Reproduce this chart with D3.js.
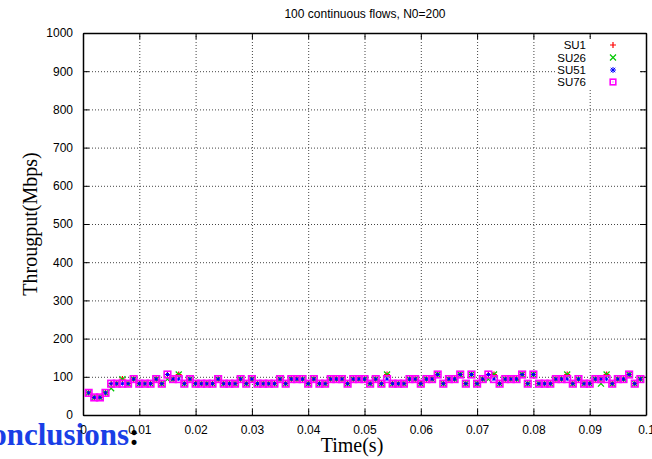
<!DOCTYPE html>
<html><head><meta charset="utf-8">
<script src="https://cdn.jsdelivr.net/npm/d3@7"></script>
<style>
body{margin:0;background:#fff;}
svg{display:block;font-family:"Liberation Sans",Arial,sans-serif;}
</style></head>
<body><svg id="c" width="652" height="459"></svg>
<script>
const title = "100 continuous flows, N0=200";
const xLabel = "Time(s)";
const yLabel = "Througput(Mbps)";
const xTicks = [0,0.01,0.02,0.03,0.04,0.05,0.06,0.07,0.08,0.09,0.1];
const xTickLabels = ["0","0.01","0.02","0.03","0.04","0.05","0.06","0.07","0.08","0.09","0.1"];
const yTicks = [0,100,200,300,400,500,600,700,800,900,1000];
const yTickLabels = ["0","100","200","300","400","500","600","700","800","900","1000"];
const times = [0.001,0.002,0.003,0.004,0.005,0.006,0.007,0.008,0.009,0.010,
0.011,0.012,0.013,0.014,0.015,0.016,0.017,0.018,0.019,0.020,
0.021,0.022,0.023,0.024,0.025,0.026,0.027,0.028,0.029,0.030,
0.031,0.032,0.033,0.034,0.035,0.036,0.037,0.038,0.039,0.040,
0.041,0.042,0.043,0.044,0.045,0.046,0.047,0.048,0.049,0.050,
0.051,0.052,0.053,0.054,0.055,0.056,0.057,0.058,0.059,0.060,
0.061,0.062,0.063,0.064,0.065,0.066,0.067,0.068,0.069,0.070,
0.071,0.072,0.073,0.074,0.075,0.076,0.077,0.078,0.079,0.080,
0.081,0.082,0.083,0.084,0.085,0.086,0.087,0.088,0.089,0.090,
0.091,0.092,0.093,0.094,0.095,0.096,0.097,0.098,0.099];
const su51 = [58,46,46,58,82,82,82,82,94,82,
82,82,94,82,106,94,94,82,94,82,
82,82,82,94,82,82,82,94,82,94,
82,82,82,82,94,82,94,94,94,82,
94,82,82,94,94,94,82,94,94,94,
82,94,82,94,82,82,82,94,94,82,
94,94,106,82,94,94,106,82,106,82,
94,106,94,82,94,94,94,106,82,106,
82,82,82,94,94,94,82,94,82,82,
94,94,94,82,94,94,106,82,94];
const su76 = su51.slice();
const su1 = [58,46,46,58,82,82,94,82,94,82,
82,82,94,82,106,94,106,82,94,82,
82,82,82,94,82,82,82,94,82,94,
82,82,82,82,94,82,94,94,94,82,
94,82,82,94,94,94,82,94,94,94,
82,94,82,106,82,82,82,94,94,82,
94,94,106,82,94,94,106,82,106,82,
94,106,106,82,94,94,94,106,82,106,
82,82,82,94,94,106,82,94,82,82,
94,94,106,82,94,94,106,82,94];
const su26 = [58,46,46,58,70,82,94,82,94,82,
82,82,94,82,94,94,106,82,94,82,
82,82,82,94,82,82,82,94,82,94,
82,82,82,82,94,82,94,94,94,82,
94,82,82,94,94,94,82,94,94,94,
82,94,82,106,82,82,82,94,94,82,
94,94,106,82,94,94,106,82,106,82,
94,94,106,82,94,94,94,106,82,106,
82,82,82,94,94,106,82,94,82,82,
94,82,106,82,94,94,106,82,94];
const seriesNames = ["SU1","SU26","SU51","SU76"];
const seriesValues = [su1, su26, su51, su76];
const seriesColors = ["#ff0000","#00c800","#0000ff","#ff00ff"];
const seriesShapes = ["plus","cross","star","square"];

const svg = d3.select("#c");
const L=83, R=646, T=33, B=415;
const x = d3.scaleLinear().domain([0,0.1]).range([L,R]);
const y = d3.scaleLinear().domain([0,1000]).range([B,T]);

// background text from underlying document
svg.append("text").attr("x",129).attr("y",445)
  .attr("text-anchor","end")
  .style("font-family","'Liberation Serif','Times New Roman',serif")
  .style("font-weight","bold").style("font-size","31px").style("fill","#1a3fe6")
  .text("Conclusions");
svg.append("text").attr("x",129).attr("y",445)
  .style("font-family","'Liberation Serif','Times New Roman',serif")
  .style("font-weight","bold").style("font-size","31px").style("fill","#000")
  .text(":");

// grid
const gridStyle = g => g.selectAll("line").attr("stroke","#444").attr("stroke-width",1).attr("stroke-dasharray","1,2");
svg.append("g").attr("transform",`translate(0,${B})`)
  .call(d3.axisBottom(x).tickValues(xTicks.slice(1,-1)).tickSize(-(B-T)).tickFormat(""))
  .call(g=>g.select(".domain").remove()).call(gridStyle);
svg.append("g").attr("transform",`translate(${L},0)`)
  .call(d3.axisLeft(y).tickValues(yTicks.slice(1,-1)).tickSize(-(R-L)).tickFormat(""))
  .call(g=>g.select(".domain").remove()).call(gridStyle);

// legend blanking box
svg.append("rect").attr("x",556).attr("y",38).attr("width",84).attr("height",50).attr("fill","#fff");

// axes (inward ticks, mirrored)
const fx = d=>xTickLabels[xTicks.indexOf(d)];
const fy = d=>yTickLabels[yTicks.indexOf(d)];
const ax = svg.append("g").attr("transform",`translate(0,${B})`)
  .call(d3.axisBottom(x).tickValues(xTicks).tickSizeInner(-6).tickSizeOuter(0).tickPadding(10).tickFormat(fx));
const ay = svg.append("g").attr("transform",`translate(${L},0)`)
  .call(d3.axisLeft(y).tickValues(yTicks).tickSizeInner(-6).tickSizeOuter(0).tickPadding(10).tickFormat(fy));
const axT = svg.append("g").attr("transform",`translate(0,${T})`)
  .call(d3.axisTop(x).tickValues(xTicks).tickSizeInner(-6).tickSizeOuter(0).tickFormat(""));
const ayR = svg.append("g").attr("transform",`translate(${R},0)`)
  .call(d3.axisRight(y).tickValues(yTicks).tickSizeInner(-6).tickSizeOuter(0).tickFormat(""));
[ax,ay,axT,ayR].forEach(g=>{
  g.selectAll("text").style("font-family","'Liberation Sans',Arial,sans-serif").style("font-size","12px").attr("fill","#000");
  g.selectAll("line").attr("stroke","#000");
  g.select(".domain").attr("stroke","#000").attr("stroke-width",1.5);
});

// markers
function drawMarker(g, shape, color, cx, cy, s) {
  if (shape==="plus") {
    g.append("path").attr("d",`M${cx-s},${cy}H${cx+s}M${cx},${cy-s}V${cy+s}`).attr("stroke",color).attr("stroke-width",1.2).attr("fill","none");
  } else if (shape==="cross") {
    g.append("path").attr("d",`M${cx-s},${cy-s}L${cx+s},${cy+s}M${cx-s},${cy+s}L${cx+s},${cy-s}`).attr("stroke",color).attr("stroke-width",1.2).attr("fill","none");
  } else if (shape==="star") {
    g.append("path").attr("d",`M${cx-s},${cy}H${cx+s}M${cx},${cy-s}V${cy+s}M${cx-s*0.75},${cy-s*0.75}L${cx+s*0.75},${cy+s*0.75}M${cx-s*0.75},${cy+s*0.75}L${cx+s*0.75},${cy-s*0.75}`).attr("stroke",color).attr("stroke-width",1).attr("fill","none");
  } else {
    g.append("rect").attr("x",cx-s).attr("y",cy-s).attr("width",2*s).attr("height",2*s).attr("stroke",color).attr("stroke-width",1.6).attr("fill","none");
  }
}
const pts = svg.append("g");
const sizes = [3,3,2,3.3];
seriesValues.forEach((vals,si)=>{
  vals.forEach((v,i)=>{
    drawMarker(pts, seriesShapes[si], seriesColors[si], x(times[i]), y(v), sizes[si]);
  });
});

// legend
const legY = [45,57.5,70,82];
seriesNames.forEach((n,i)=>{
  svg.append("text").attr("x",586).attr("y",legY[i]).attr("dy","0.35em").attr("text-anchor","end")
    .style("font-size","11.5px").text(n);
  drawMarker(svg, seriesShapes[i], seriesColors[i], 613, legY[i], i===3?2.8:3);
  if (i===3) svg.append("rect").attr("x",612.5).attr("y",legY[i]-0.5).attr("width",1).attr("height",1).attr("fill",seriesColors[i]);
});

// title and labels
svg.append("text").attr("x",365).attr("y",18).attr("text-anchor","middle").style("font-size","12px").text(title);
svg.append("text").attr("x",352).attr("y",452).attr("text-anchor","middle")
  .style("font-family","'Liberation Serif','Times New Roman',serif").style("font-size","20px").text(xLabel);
svg.append("text").attr("transform","translate(37,224) rotate(-90)").attr("text-anchor","middle")
  .style("font-family","'Liberation Serif','Times New Roman',serif").style("font-size","20px").text(yLabel);
</script></body></html>
